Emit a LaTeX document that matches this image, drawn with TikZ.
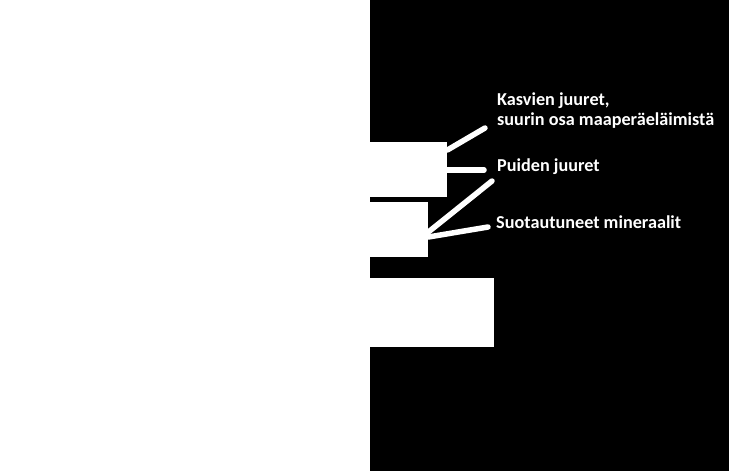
\documentclass[tikz,border=0pt]{standalone}
\usepackage{fontspec}
\setmainfont{Carlito}
\begin{document}
\begin{tikzpicture}[x=1pt,y=-1pt,
		kerros/.style={fill=white,draw=none,inner sep=0pt,anchor=north west},
		selite/.style={text=white,font=\bfseries\fontsize{18.2}{20}\selectfont,anchor=base west,inner sep=0pt},
		viiva/.style={draw=white,line width=5.5pt,line cap=round}]
	\useasboundingbox (0,0) rectangle (729,471);
	\fill[white] (0,0) rectangle (370,471);
	\fill[black] (370,0) rectangle (729,471);
	
	\node[kerros,minimum width=77pt,minimum height=55pt] (pinta) at (370,142) {};
	\node[kerros,minimum width=58pt,minimum height=55pt] (huuhtouma) at (370,202) {};
	\node[kerros,minimum width=124pt,minimum height=69pt] (rikastuma) at (370,278) {};
	
	\node[selite] (kasvit) at (497,105) {Kasvien juuret,};
	\node[selite] (elaimet) at (497,125) {suurin osa maaperäeläimistä};
	\node[selite] (puut) at (497,171) {Puiden juuret};
	\node[selite] (mineraalit) at (496,228) {Suotautuneet mineraalit};
	
	\coordinate (p1) at (485,128);
	\coordinate (p2) at (484,170);
	\coordinate (p3) at (492,181);
	\coordinate (p4) at (488,227);
	
	\draw[viiva] ([yshift=-8pt]pinta.north east) -- (p1);
	\draw[viiva] ([yshift=-28pt]pinta.north east) -- (p2);
	\draw[viiva] ([yshift=-30pt]huuhtouma.north east) -- (p3);
	\draw[viiva] ([yshift=-35pt]huuhtouma.north east) -- (p4);
\end{tikzpicture}
\end{document}
